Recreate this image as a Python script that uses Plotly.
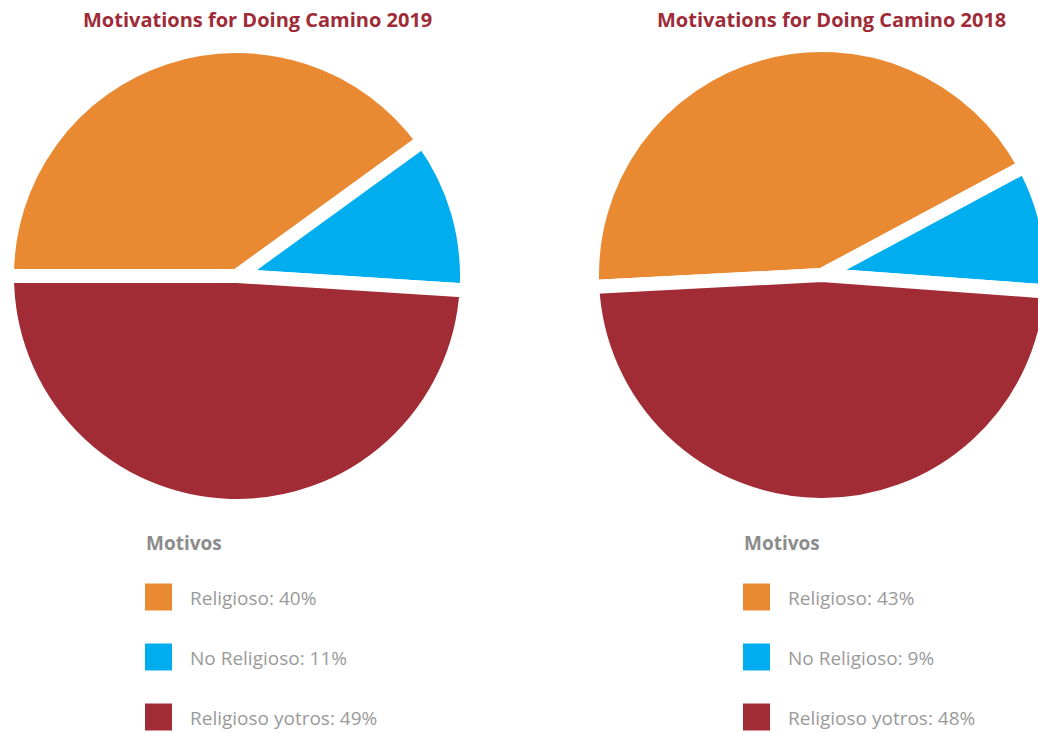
import plotly.graph_objects as go

# ---- data ----
categories = ["Religioso", "No Religioso", "Religioso yotros"]
values_2019 = [40, 11, 49]
values_2018 = [43, 9, 48]
titles = ["Motivations for Doing Camino 2019", "Motivations for Doing Camino 2018"]
legend_title = "Motivos"

# ---- style ----
colors = ["#E98A33", "#00AEEF", "#A12C36"]
W, H = 1052, 733

def px(x):
    return x / W

def py(y):
    return 1 - y / H

R = 230
pies = [
    dict(values=values_2019, cx=237, cy=276, rot=270, title=titles[0], tx=257, lx=145),
    dict(values=values_2018, cx=822, cy=275, rot=267, title=titles[1], tx=831, lx=743),
]

fig = go.Figure()
annotations = []
shapes = []
for p in pies:
    fig.add_trace(go.Pie(
        labels=categories,
        values=p["values"],
        sort=False,
        direction="clockwise",
        rotation=p["rot"],
        marker=dict(colors=colors, line=dict(color="white", width=14)),
        textinfo="none",
        hoverinfo="label+percent",
        showlegend=False,
        domain=dict(x=[px(p["cx"] - R), px(p["cx"] + R)],
                    y=[py(p["cy"] + R), py(p["cy"] - R)]),
    ))
    # title
    annotations.append(dict(
        text=f"<b>{p['title']}</b>", x=px(p["tx"]), y=py(20), xref="paper", yref="paper",
        xanchor="center", yanchor="middle", showarrow=False,
        font=dict(family="Open Sans", size=20, color="#9E2B37"),
    ))
    # legend title
    annotations.append(dict(
        text=f"<b>{legend_title}</b>", x=px(p["lx"] - 1), y=py(543), xref="paper", yref="paper",
        xanchor="left", yanchor="middle", showarrow=False,
        font=dict(family="Open Sans", size=19, color="#8C8C8C"),
    ))
    # legend items
    for i, (cat, val) in enumerate(zip(categories, p["values"])):
        yc = 597 + 60 * i
        shapes.append(dict(
            type="rect", xref="paper", yref="paper",
            x0=px(p["lx"]), x1=px(p["lx"] + 27), y0=py(yc + 13.5), y1=py(yc - 13.5),
            fillcolor=colors[i], line=dict(width=0),
        ))
        annotations.append(dict(
            text=f"{cat}: {val}%", x=px(p["lx"] + 43), y=py(yc + 1), xref="paper", yref="paper",
            xanchor="left", yanchor="middle", showarrow=False,
            font=dict(family="Open Sans", size=19, color="#9A9A9A"),
        ))

fig.update_layout(
    width=W, height=H,
    margin=dict(l=0, r=0, t=0, b=0),
    paper_bgcolor="white",
    plot_bgcolor="white",
    annotations=annotations,
    shapes=shapes,
)

fig.write_html("out.html", post_script="document.body.style.overflow='hidden';document.documentElement.style.overflow='hidden';")
